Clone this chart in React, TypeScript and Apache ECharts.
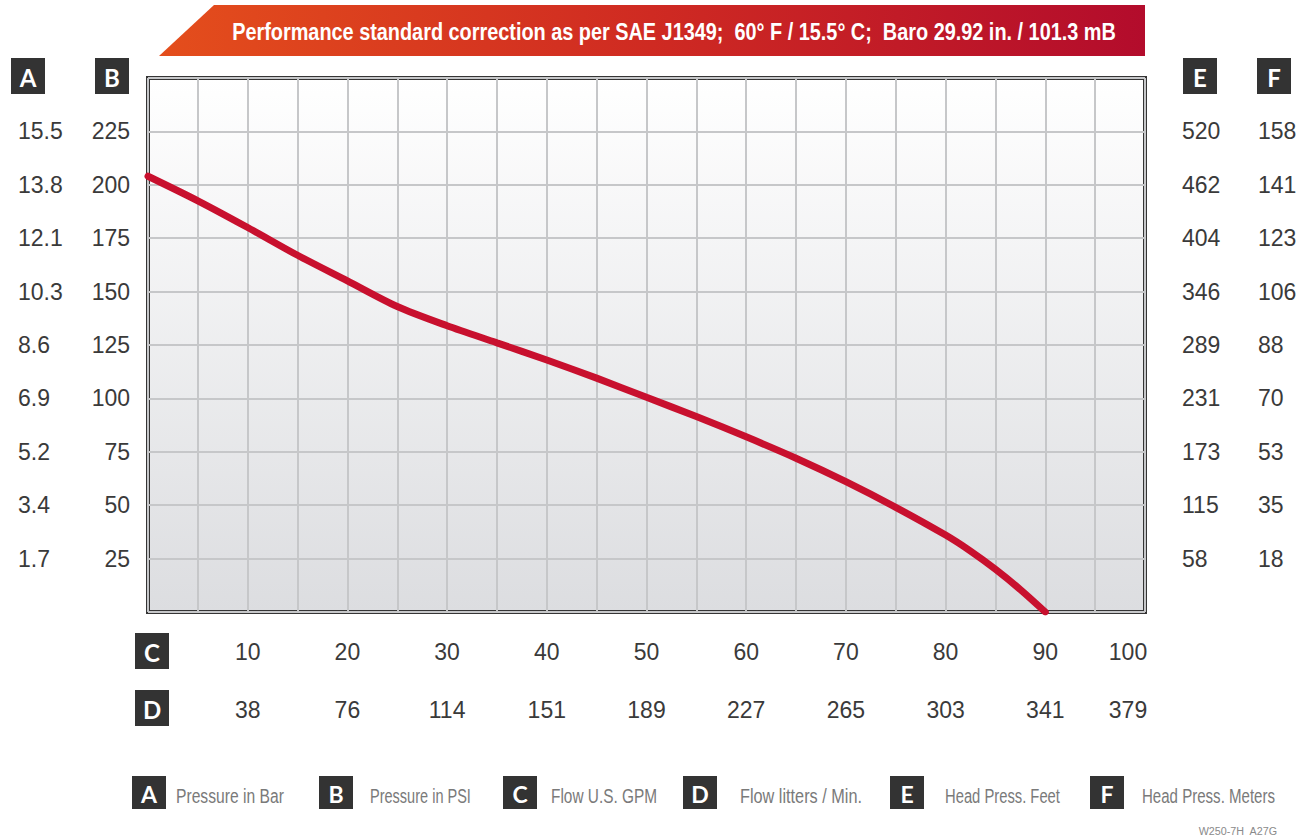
import React, { useEffect, useRef } from 'react';
import * as echarts from 'echarts';

// ---- data ----
const flowGpm = [0, 5, 10, 15, 20, 25, 30, 35, 40, 45, 50, 55, 60, 65, 70, 75, 80, 82.5, 85, 87.5, 90];
const pressurePsi = [204, 192.5, 180, 167, 155, 143, 134, 126, 118, 109.5, 100.5, 91.5, 82, 72, 61, 49, 36, 28.5, 20, 10.5, 0];

const gpmTicks = [10, 20, 30, 40, 50, 60, 70, 80, 90, 100];
const lpmTicks = [38, 76, 114, 151, 189, 227, 265, 303, 341, 379];
const psiTicks = [25, 50, 75, 100, 125, 150, 175, 200, 225];
const barTicks = ['1.7', '3.4', '5.2', '6.9', '8.6', '10.3', '12.1', '13.8', '15.5'];
const feetTicks = [58, 115, 173, 231, 289, 346, 404, 462, 520];
const meterTicks = [18, 35, 53, 70, 88, 106, 123, 141, 158];

const legendLetters = ['A', 'B', 'C', 'D', 'E', 'F'];
const legendLabels = ['Pressure in Bar', 'Pressure in PSI', 'Flow U.S. GPM', 'Flow litters / Min.', 'Head Press. Feet', 'Head Press. Meters'];

const titleText = 'Performance standard correction as per SAE J1349;  60° F / 15.5° C;  Baro 29.92 in. / 101.3 mB';
const footerText = 'W250-7H  A27G';

// ---- layout ----
const SANS = "'Liberation Sans', Arial, sans-serif";
const GRID = { left: 148, top: 78, right: 1145, bottom: 612 };
const TICK_COLOR = '#3a3a3a';
const legendBoxX = [132, 319, 503, 683, 890, 1090];
const legendTextX = [176, 370, 551, 740, 945, 1142];
const legendTextW = [108, 101, 106, 122, 115, 133];

let measureCtx: CanvasRenderingContext2D | null = null;
function textWidth(text: string, font: string) {
  if (!measureCtx) measureCtx = document.createElement('canvas').getContext('2d');
  if (!measureCtx) return text.length * 10;
  measureCtx.font = font;
  return measureCtx.measureText(text).width;
}

function fitText(text: string, x: number, y: number, w: number, font: string, fill: string, align: string) {
  const sx = w / Math.max(1, textWidth(text, font));
  return {
    type: 'text',
    x,
    y,
    scaleX: sx,
    style: { text, fill, font, textAlign: align, textVerticalAlign: 'middle' },
  };
}

function letterBox(letter: string, x: number, y: number, w: number, h: number, size: number) {
  return {
    type: 'group',
    children: [
      { type: 'rect', shape: { x, y, width: w, height: h }, style: { fill: '#333333' } },
      {
        type: 'text',
        x: x + w / 2,
        y: y + h / 2 + 1,
        style: {
          text: letter,
          fill: '#ffffff',
          font: `bold ${size}px Lato, 'DejaVu Sans', sans-serif`,
          textAlign: 'center',
          textVerticalAlign: 'middle',
        },
      },
    ],
  };
}

function lookup(keys: number[], vals: (number | string)[]) {
  return (v: number) => {
    const i = keys.findIndex((k) => Math.abs(k - v) < 1e-6);
    return i < 0 ? '' : String(vals[i]);
  };
}

export default function App() {
  const ref = useRef<HTMLDivElement>(null);
  useEffect(() => {
    if (!ref.current) return;
    const chart = echarts.init(ref.current, undefined, { renderer: 'svg' });
    const labelBase = { fontFamily: SANS, fontSize: 23, color: TICK_COLOR };

    const graphics: any[] = [];
    // banner
    graphics.push({
      type: 'polygon',
      shape: { points: [[159, 56], [214, 5], [1145, 5], [1145, 56]] },
      style: {
        fill: new echarts.graphic.LinearGradient(0, 0, 1, 0, [
          { offset: 0, color: '#e44e1c' },
          { offset: 0.5, color: '#cf2a22' },
          { offset: 1, color: '#b30c2c' },
        ]),
      },
    });
    graphics.push(fitText(titleText, 674, 33, 884, `bold 23px ${SANS}`, '#ffffff', 'center'));
    // axis header boxes
    graphics.push(letterBox('A', 11, 58, 34, 36, 24));
    graphics.push(letterBox('B', 95, 58, 34, 36, 24));
    graphics.push(letterBox('E', 1183, 58, 34, 36, 24));
    graphics.push(letterBox('F', 1257, 58, 34, 36, 24));
    graphics.push(letterBox('C', 135, 633, 34, 36, 24));
    graphics.push(letterBox('D', 135, 690, 34, 36, 24));
    // legend
    legendLetters.forEach((l, i) => {
      graphics.push(letterBox(l, legendBoxX[i], 776, 34, 33, 23));
      graphics.push(fitText(legendLabels[i], legendTextX[i], 796, legendTextW[i], `21px ${SANS}`, '#7a7a7a', 'left'));
    });
    graphics.push(fitText(footerText, 1277, 831, 79, `11px ${SANS}`, '#8a8a8a', 'right'));

    const yCommon = { type: 'value', min: 0, max: 250, interval: 25, axisTick: { show: false }, axisLine: { show: false } };

    chart.setOption({
      animation: false,
      backgroundColor: '#ffffff',
      grid: {
        left: GRID.left,
        top: GRID.top,
        width: GRID.right - GRID.left,
        height: GRID.bottom - GRID.top,
        show: true,
        borderColor: '#353535',
        borderWidth: 4,
        backgroundColor: new echarts.graphic.LinearGradient(0, 0, 0, 1, [
          { offset: 0, color: '#ffffff' },
          { offset: 1, color: '#dcdde0' },
        ]),
      },
      xAxis: [
        {
          type: 'value', min: 0, max: 100, interval: 5, position: 'bottom',
          axisLine: { show: false }, axisTick: { show: false },
          splitLine: { show: true, lineStyle: { color: '#c6c7c9', width: 2 } },
          axisLabel: {
            ...labelBase, margin: 28,
            formatter: (v: number) => {
              const s = lookup(gpmTicks, gpmTicks)(v);
              return v === 100 ? `{e|${s}}` : s;
            },
            rich: { e: { ...labelBase, padding: [0, 34, 0, 0] } },
          },
        },
        {
          type: 'value', min: 0, max: 100, interval: 5, position: 'bottom', offset: 58,
          axisLine: { show: false }, axisTick: { show: false }, splitLine: { show: false },
          axisLabel: {
            ...labelBase, margin: 28,
            formatter: (v: number) => {
              const s = lookup(gpmTicks, lpmTicks)(v);
              return v === 100 ? `{e|${s}}` : s;
            },
            rich: { e: { ...labelBase, padding: [0, 34, 0, 0] } },
          },
        },
      ],
      yAxis: [
        { ...yCommon, position: 'left', splitLine: { show: true, lineStyle: { color: '#c6c7c9', width: 2 } },
          axisLabel: { ...labelBase, margin: 18, formatter: lookup(psiTicks, psiTicks) } },
        { ...yCommon, position: 'left', splitLine: { show: false },
          axisLabel: { ...labelBase, margin: 130, align: 'left', formatter: lookup(psiTicks, barTicks) } },
        { ...yCommon, position: 'right', splitLine: { show: false },
          axisLabel: { ...labelBase, margin: 37, align: 'left', formatter: lookup(psiTicks, feetTicks) } },
        { ...yCommon, position: 'right', splitLine: { show: false },
          axisLabel: { ...labelBase, margin: 113, align: 'left', formatter: lookup(psiTicks, meterTicks) } },
      ],
      series: [
        {
          type: 'line',
          xAxisIndex: 0,
          yAxisIndex: 0,
          data: flowGpm.map((g, i) => [g, pressurePsi[i]]),
          smooth: 0.3,
          showSymbol: false,
          lineStyle: { color: '#c8102e', width: 7, cap: 'round' },
          z: 5,
        },
      ],
      graphic: graphics,
    });
    return () => chart.dispose();
  }, []);
  return <div ref={ref} style={{ position: 'absolute', left: 0, top: 0, width: 1306, height: 840 }} />;
}
